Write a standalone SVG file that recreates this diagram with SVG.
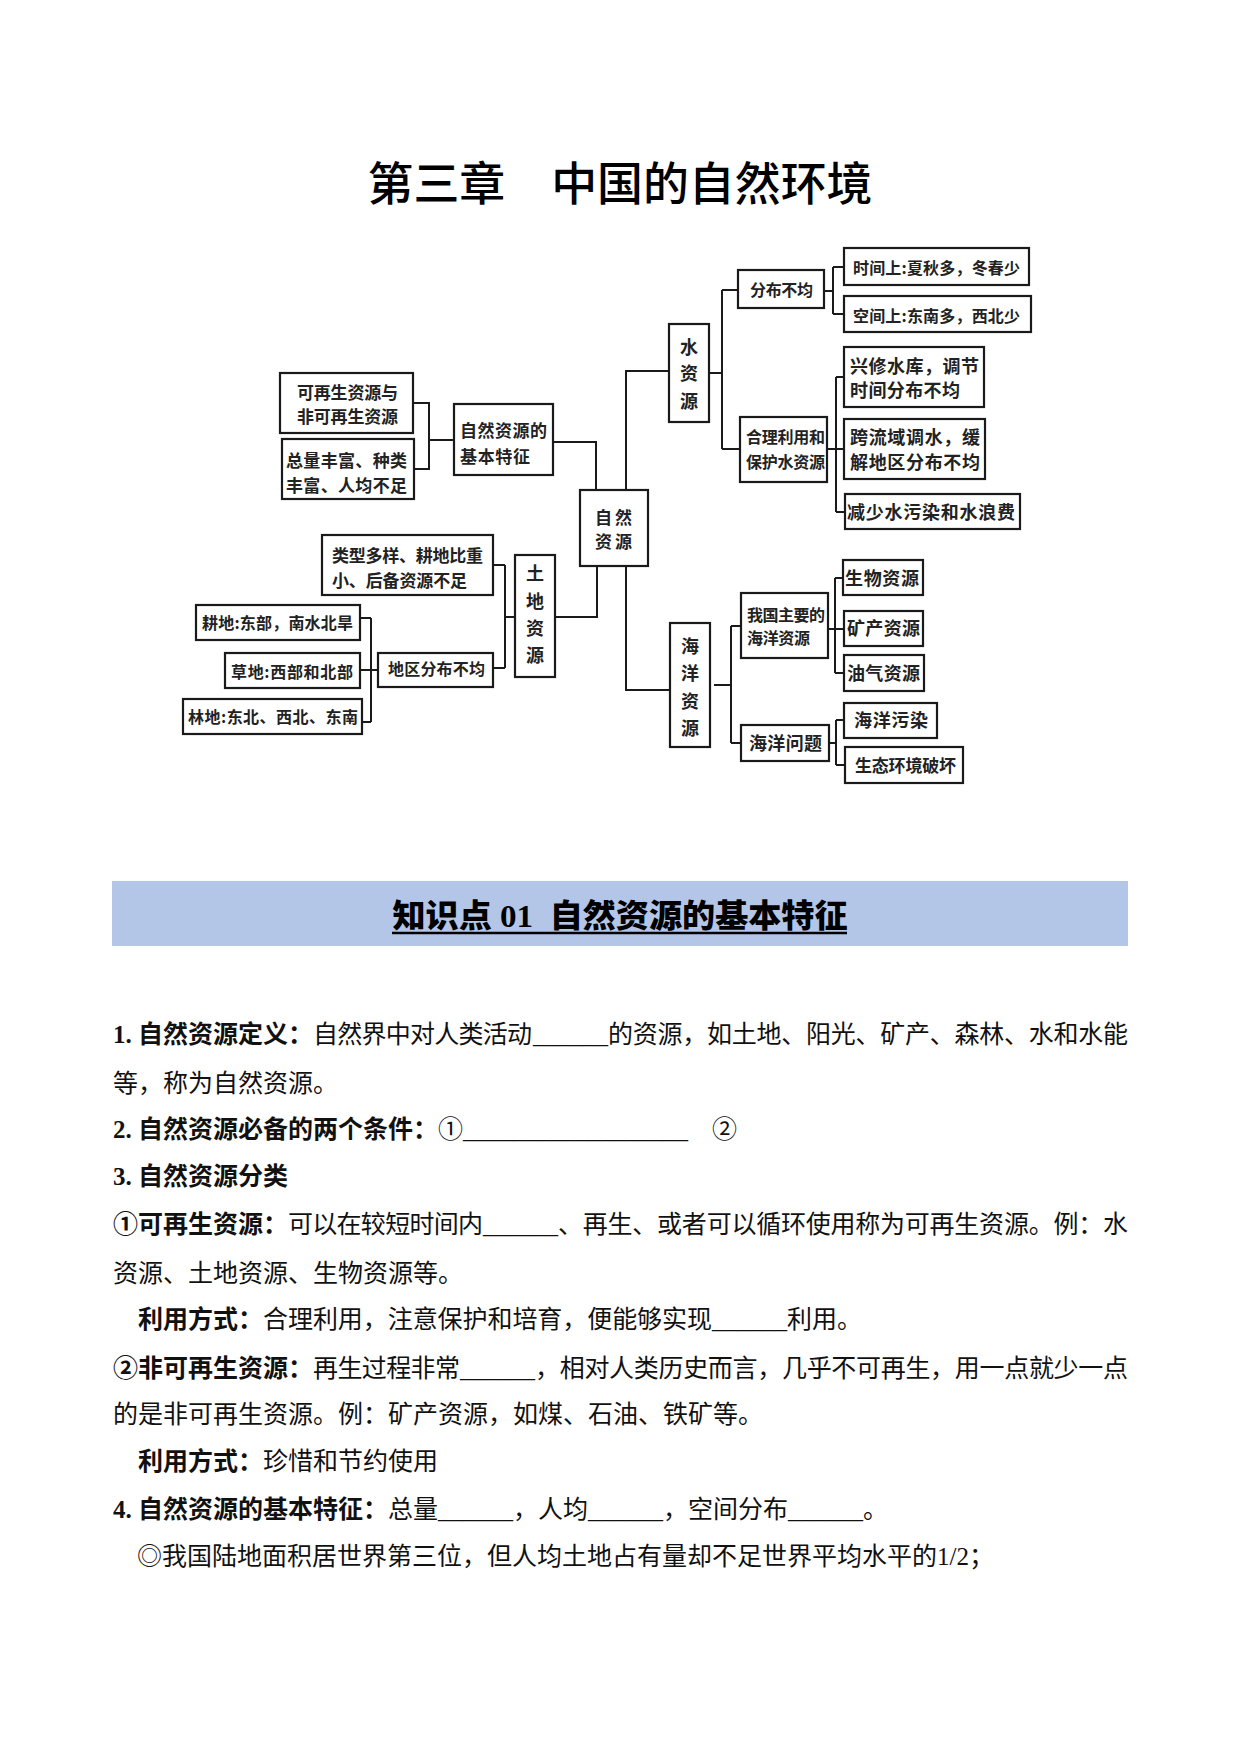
<svg xmlns="http://www.w3.org/2000/svg" width="1241" height="1754" viewBox="0 0 1241 1754">
<style>
.box{fill:#fff;stroke:#1a1a1a;stroke-width:2.2}
.conn{fill:none;stroke:#1a1a1a;stroke-width:2}
.dt{font-family:"Noto Sans CJK SC","Noto Sans CJK JP",sans-serif;font-weight:bold;fill:#222}
.s16{font-size:16px}.s17{font-size:17px}.s18{font-size:18px}
.mid{text-anchor:middle}
.body{font-family:"Liberation Serif","Noto Sans CJK SC",serif;font-size:25px;fill:#111}
.b{font-weight:bold}
.title{font-family:"Noto Sans CJK SC",sans-serif;font-size:46px;font-weight:500;fill:#000;text-anchor:middle}
.banner{font-family:"Liberation Serif","Noto Sans CJK SC",serif;font-size:32px;font-weight:900;fill:#000;text-anchor:middle}
</style>
<rect width="1241" height="1754" fill="#fff"/>

<text class="title" x="620" y="200" textLength="505" lengthAdjust="spacingAndGlyphs">第三章　中国的自然环境</text>

<g id="connectors">
  <path class="conn" d="M413,403 H429 V469 H414 M429,440 H454"/>
  <path class="conn" d="M553,442 H596 V490"/>
  <path class="conn" d="M626,490 V371 H669"/>
  <path class="conn" d="M709,373 H722 M722,290 V449 M722,290 H738 M722,449 H740"/>
  <path class="conn" d="M824,291 H833 M833,267 V314 M833,267 H844 M833,314 H844"/>
  <path class="conn" d="M827,449 H836 M836,377 V512 M836,377 H844 M836,449 H844 M836,512 H845"/>
  <path class="conn" d="M597,566 V617 H555"/>
  <path class="conn" d="M626,566 V690 H670"/>
  <path class="conn" d="M515,617 H505 M505,565 V668 M505,565 H493 M505,668 H493"/>
  <path class="conn" d="M360,670 H378 M371,618 V722 M360,618 H371 M362,722 H371"/>
  <path class="conn" d="M714,685 H731 M731,626 V743 M731,626 H741 M731,743 H741"/>
  <path class="conn" d="M828,629 H835 M835,578 V673 M835,578 H843 M835,629 H844 M835,673 H844"/>
  <path class="conn" d="M829,743 H836 M836,720 V765 M836,720 H844 M836,765 H845"/>
</g>

<g id="n-renew">
  <rect class="box" x="280" y="373" width="133" height="60"/>
  <text class="dt s17" x="297" y="398.5" textLength="101">可再生资源与</text>
  <text class="dt s17" x="297" y="422.5" textLength="101">非可再生资源</text>
</g>
<g id="n-total">
  <rect class="box" x="282" y="439" width="132" height="60"/>
  <text class="dt s17" x="286" y="466.5" textLength="121">总量丰富、种类</text>
  <text class="dt s17" x="286" y="491.5" textLength="121">丰富、人均不足</text>
</g>
<g id="n-feature">
  <rect class="box" x="454" y="404" width="99" height="71"/>
  <text class="dt s17" x="460" y="436.5" textLength="87">自然资源的</text>
  <text class="dt s17" x="460" y="462.5" textLength="70">基本特征</text>
</g>
<g id="n-natural">
  <rect class="box" x="580" y="490" width="68" height="76"/>
  <text class="dt s17" x="595" y="523.5" textLength="37">自然</text>
  <text class="dt s17" x="595" y="547.5" textLength="37">资源</text>
</g>
<g id="n-water">
  <rect class="box" x="669" y="324" width="40" height="98"/>
  <text class="dt s18 mid" x="689" y="354">水</text>
  <text class="dt s18 mid" x="689" y="380">资</text>
  <text class="dt s18 mid" x="689" y="408">源</text>
</g>
<g id="n-uneven">
  <rect class="box" x="738" y="270" width="86" height="38"/>
  <text class="dt s16" x="750" y="296" textLength="63">分布不均</text>
</g>
<g id="n-time">
  <rect class="box" x="844" y="248" width="185" height="37"/>
  <text class="dt s16" x="853" y="274" textLength="167">时间上:夏秋多，冬春少</text>
</g>
<g id="n-space">
  <rect class="box" x="844" y="296" width="187" height="36"/>
  <text class="dt s16" x="853" y="322" textLength="167">空间上:东南多，西北少</text>
</g>
<g id="n-protect">
  <rect class="box" x="740" y="417" width="87" height="65"/>
  <text class="dt s16" x="746" y="443" textLength="79">合理利用和</text>
  <text class="dt s16" x="746" y="468" textLength="79">保护水资源</text>
</g>
<g id="n-reservoir">
  <rect class="box" x="844" y="347" width="140" height="60"/>
  <text class="dt s18" x="850" y="372.8" textLength="129">兴修水库，调节</text>
  <text class="dt s18" x="850" y="396.8" textLength="110">时间分布不均</text>
</g>
<g id="n-transfer">
  <rect class="box" x="844" y="419" width="141" height="60"/>
  <text class="dt s18" x="850" y="443.8" textLength="130">跨流域调水，缓</text>
  <text class="dt s18" x="850" y="468.8" textLength="130">解地区分布不均</text>
</g>
<g id="n-reduce">
  <rect class="box" x="845" y="494" width="175" height="35"/>
  <text class="dt s18" x="847" y="518.8" textLength="168">减少水污染和水浪费</text>
</g>

<g id="n-land">
  <rect class="box" x="515" y="555" width="40" height="122"/>
  <text class="dt s18 mid" x="535" y="580">土</text>
  <text class="dt s18 mid" x="535" y="608">地</text>
  <text class="dt s18 mid" x="535" y="635">资</text>
  <text class="dt s18 mid" x="535" y="662">源</text>
</g>
<g id="n-landtype">
  <rect class="box" x="322" y="535" width="171" height="60"/>
  <text class="dt s17" x="332" y="561.5" textLength="151">类型多样、耕地比重</text>
  <text class="dt s17" x="332" y="586.5" textLength="135">小、后备资源不足</text>
</g>
<g id="n-region">
  <rect class="box" x="378" y="653" width="115" height="34"/>
  <text class="dt s16" x="388" y="675" textLength="97">地区分布不均</text>
</g>
<g id="n-farm">
  <rect class="box" x="196" y="605" width="164" height="35"/>
  <text class="dt s16" x="202" y="629" textLength="151">耕地:东部，南水北旱</text>
</g>
<g id="n-grass">
  <rect class="box" x="225" y="653" width="135" height="35"/>
  <text class="dt s16" x="231" y="678" textLength="122">草地:西部和北部</text>
</g>
<g id="n-forest">
  <rect class="box" x="183" y="699" width="179" height="35"/>
  <text class="dt s16" x="188" y="723" textLength="170">林地:东北、西北、东南</text>
</g>

<g id="n-ocean">
  <rect class="box" x="670" y="623" width="40" height="124"/>
  <text class="dt s18 mid" x="690" y="653">海</text>
  <text class="dt s18 mid" x="690" y="680">洋</text>
  <text class="dt s18 mid" x="690" y="708">资</text>
  <text class="dt s18 mid" x="690" y="735">源</text>
</g>
<g id="n-oceanres">
  <rect class="box" x="741" y="593" width="87" height="65"/>
  <text class="dt s16" x="747" y="621" textLength="78">我国主要的</text>
  <text class="dt s16" x="747" y="644" textLength="63">海洋资源</text>
</g>
<g id="n-bio">
  <rect class="box" x="843" y="560" width="80" height="35"/>
  <text class="dt s18" x="845" y="584.8" textLength="74">生物资源</text>
</g>
<g id="n-mineral">
  <rect class="box" x="844" y="611" width="79" height="35"/>
  <text class="dt s18" x="847" y="634.8" textLength="73">矿产资源</text>
</g>
<g id="n-oil">
  <rect class="box" x="844" y="655" width="80" height="36"/>
  <text class="dt s18" x="847" y="679.8" textLength="73">油气资源</text>
</g>
<g id="n-oceanprob">
  <rect class="box" x="741" y="725" width="88" height="36"/>
  <text class="dt s18" x="749" y="749.8" textLength="73">海洋问题</text>
</g>
<g id="n-pollution">
  <rect class="box" x="844" y="703" width="93" height="35"/>
  <text class="dt s18" x="854" y="726.8" textLength="74">海洋污染</text>
</g>
<g id="n-eco">
  <rect class="box" x="845" y="747" width="118" height="36"/>
  <text class="dt s17" x="855" y="771.5" textLength="101">生态环境破坏</text>
</g>

<g id="banner">
  <rect x="112" y="881" width="1016" height="65" fill="#B4C6E7"/>
  <text class="banner" x="620" y="927" textLength="455" lengthAdjust="spacingAndGlyphs">知识点&#160;01&#160;&#160;自然资源的基本特征</text>
  <line x1="392" y1="933" x2="847" y2="933" stroke="#000" stroke-width="2.5"/>
</g>

<g id="body" class="body">
  <text x="113" y="1042.5" class="b">1. 自然资源定义：</text>
  <text x="313" y="1042.5" textLength="219">自然界中对人类活动</text>
  <text x="533" y="1042.5">______</text>
  <text x="608" y="1042.5" textLength="520">的资源，如土地、阳光、矿产、森林、水和水能</text>

  <text x="113" y="1091.5">等，称为自然资源。</text>

  <text x="113" y="1137.5" class="b">2. 自然资源必备的两个条件：</text>
  <text x="438" y="1137.5">①</text>
  <text x="463" y="1137.5">__________________</text>
  <text x="712" y="1137.5">②</text>

  <text x="113" y="1184.5" class="b">3. 自然资源分类</text>

  <text x="113" y="1232.5" class="b">①可再生资源：</text>
  <text x="288" y="1232.5" textLength="195">可以在较短时间内</text>
  <text x="483" y="1232.5">______</text>
  <text x="558" y="1232.5" textLength="570">、再生、或者可以循环使用称为可再生资源。例：水</text>

  <text x="113" y="1281.5">资源、土地资源、生物资源等。</text>

  <text x="138" y="1327.5" class="b">利用方式：</text>
  <text x="263" y="1327.5" textLength="449">合理利用，注意保护和培育，便能够实现</text>
  <text x="712" y="1327.5">______</text>
  <text x="787" y="1327.5">利用。</text>

  <text x="113" y="1376.5" class="b">②非可再生资源：</text>
  <text x="313" y="1376.5" textLength="147">再生过程非常</text>
  <text x="460" y="1376.5">______</text>
  <text x="535" y="1376.5" textLength="593">，相对人类历史而言，几乎不可再生，用一点就少一点</text>

  <text x="113" y="1422.5">的是非可再生资源。例：矿产资源，如煤、石油、铁矿等。</text>

  <text x="138" y="1469.5" class="b">利用方式：</text>
  <text x="263" y="1469.5">珍惜和节约使用</text>

  <text x="113" y="1517.5" class="b">4. 自然资源的基本特征：</text>
  <text x="388" y="1517.5">总量</text>
  <text x="438" y="1517.5">______</text>
  <text x="513" y="1517.5">，人均</text>
  <text x="588" y="1517.5">______</text>
  <text x="663" y="1517.5">，空间分布</text>
  <text x="788" y="1517.5">______</text>
  <text x="863" y="1517.5">。</text>

  <text x="137" y="1564.5">◎我国陆地面积居世界第三位，但人均土地占有量却不足世界平均水平的1/2；</text>
</g>
</svg>
